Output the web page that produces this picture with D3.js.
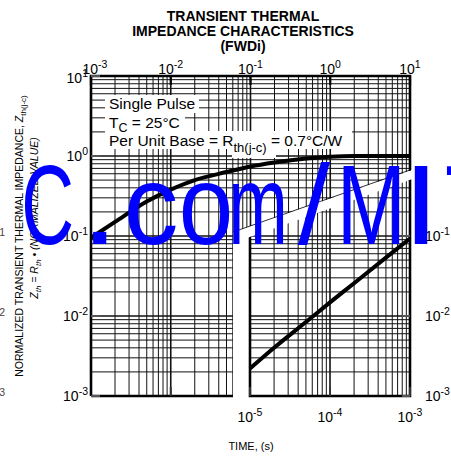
<!DOCTYPE html>
<html><head><meta charset="utf-8">
<script src="https://cdn.jsdelivr.net/npm/d3@7"></script>
<style>html,body{margin:0;padding:0;background:#fff;overflow:hidden}</style>
</head><body><svg id="c" width="451" height="457" xmlns="http://www.w3.org/2000/svg"></svg>
<script>
// ---- data ----
const tLong = [1e-3, 2e-3, 5e-3, 1e-2, 2e-2, 5e-2, 0.1, 0.2, 0.5, 1, 2, 5, 10];
const zLong = [0.095, 0.15, 0.27, 0.38, 0.50, 0.63, 0.74, 0.83, 0.93, 0.98, 1.0, 1.0, 1.0];
const tShort = [1e-5, 2e-5, 5e-5, 1e-4, 2e-4, 5e-4, 1e-3];
const zShort = [0.0022, 0.0040, 0.0084, 0.0148, 0.0257, 0.0537, 0.093];
const topTicks = [1e-3, 1e-2, 1e-1, 1e0, 1e1];
const topExp = ["-3", "-2", "-1", "0", "1"];
const bottomTicks = [1e-5, 1e-4, 1e-3];
const bottomExp = ["-5", "-4", "-3"];
const leftTicks = [1e1, 1e0, 1e-1, 1e-2, 1e-3];
const leftExp = ["1", "0", "-1", "-2", "-3"];
const rightTicks = [1e-1, 1e-2, 1e-3];
const rightExp = ["-1", "-2", "-3"];
const titleLines = ["TRANSIENT THERMAL", "IMPEDANCE CHARACTERISTICS", "(FWDi)"];
const watermark = ["C", ".", "c", "o", "m", "/", "M", "I", "T"];

const FONT = "'Liberation Sans', Arial, Helvetica, sans-serif";
const svg = d3.select("#c");

// ---- scales ----
const L = 91, R = 410, T = 76, B = 396, RL = 250, CUT = 233;
const xL = d3.scaleLog().domain([1e-3, 1e1]).range([L, R]);
const xR = d3.scaleLog().domain([1e-5, 1e-3]).range([RL, R]);
const y = d3.scaleLog().domain([1e-3, 1e1]).range([B, T]);

function gridValues(lo, hi) {
  const out = [];
  for (let n = Math.round(Math.log10(lo)); n < Math.round(Math.log10(hi)); n++)
    for (let k = 1; k <= 9; k++) out.push({v: k * Math.pow(10, n), major: k === 1});
  out.push({v: hi, major: true});
  return out;
}

// clip regions
const defs = svg.append("defs");
const lineUp = [[CUT, 232], [R, 170]];
const lineLow = [[RL, 237], [R, 180]];
defs.append("clipPath").attr("id", "clipL").append("polygon")
  .attr("points", [[L - 2, T - 2], [R + 2, T - 2], [R + 2, lineUp[1][1]], lineUp[0], [CUT, B + 2], [L - 2, B + 2]].join(" "));
defs.append("clipPath").attr("id", "clipR").append("polygon")
  .attr("points", [lineLow[0], [R + 2, lineLow[1][1] - 0.7], [R + 2, B + 2], [RL - 2, B + 2], [RL - 2, lineLow[0][1] + 0.7]].join(" "));

// ---- left (long time) grid ----
const gL = svg.append("g").attr("clip-path", "url(#clipL)");
gridValues(1e-3, 1e1).forEach(d => {
  gL.append("line").attr("x1", xL(d.v)).attr("x2", xL(d.v)).attr("y1", T).attr("y2", B)
    .attr("stroke", "#111").attr("stroke-width", d.major ? 1.6 : 1);
});
gridValues(1e-3, 1e1).forEach(d => {
  gL.append("line").attr("x1", L).attr("x2", R).attr("y1", y(d.v)).attr("y2", y(d.v))
    .attr("stroke", "#111").attr("stroke-width", d.major ? 1.6 : 1);
});
gL.append("path").attr("d", `M${L},${B}L${L},${T}L${R},${T}L${R},${B}`).attr("fill", "none")
  .attr("stroke", "#000").attr("stroke-width", 2.6);
gL.append("line").attr("x1", L).attr("x2", CUT).attr("y1", B).attr("y2", B)
  .attr("stroke", "#000").attr("stroke-width", 2.6);
topTicks.forEach(v => gL.append("line").attr("x1", xL(v)).attr("x2", xL(v)).attr("y1", T).attr("y2", T + 9)
  .attr("stroke", "#000").attr("stroke-width", 2.2));
[1e-2].forEach(v => gL.append("line").attr("x1", xL(v)).attr("x2", xL(v)).attr("y1", B - 9).attr("y2", B)
  .attr("stroke", "#333").attr("stroke-width", 2));
leftTicks.forEach(v => gL.append("line").attr("x1", L).attr("x2", L + 9).attr("y1", y(v)).attr("y2", y(v))
  .attr("stroke", "#555").attr("stroke-width", 2.2));

// ---- right (short time) grid ----
const gR = svg.append("g").attr("clip-path", "url(#clipR)");
gridValues(1e-5, 1e-3).forEach(d => {
  gR.append("line").attr("x1", xR(d.v)).attr("x2", xR(d.v)).attr("y1", T).attr("y2", B)
    .attr("stroke", "#111").attr("stroke-width", d.major ? 1.6 : 1);
});
gridValues(1e-3, 1e1).forEach(d => {
  gR.append("line").attr("x1", RL).attr("x2", R).attr("y1", y(d.v)).attr("y2", y(d.v))
    .attr("stroke", "#111").attr("stroke-width", d.major ? 1.6 : 1);
});
gR.append("path").attr("d", `M${RL},${T}L${RL},${B}L${R},${B}L${R},${T}`).attr("fill", "none")
  .attr("stroke", "#000").attr("stroke-width", 2.6);
bottomTicks.forEach(v => gR.append("line").attr("x1", xR(v)).attr("x2", xR(v)).attr("y1", B - 9).attr("y2", B)
  .attr("stroke", "#333").attr("stroke-width", 2));
rightTicks.forEach(v => gR.append("line").attr("x1", R - 8).attr("x2", R).attr("y1", y(v)).attr("y2", y(v))
  .attr("stroke", "#555").attr("stroke-width", 2));

svg.append("line").attr("x1", lineUp[0][0]).attr("y1", lineUp[0][1]).attr("x2", lineUp[1][0]).attr("y2", lineUp[1][1])
  .attr("stroke", "#000").attr("stroke-width", 0.8);

// ---- curves ----
const line = d3.line().curve(d3.curveMonotoneX);
gL.append("path").attr("d", line(tLong.map((t, i) => [xL(t), y(zLong[i])])))
  .attr("fill", "none").attr("stroke", "#000").attr("stroke-width", 4);
gR.append("path").attr("d", line(tShort.map((t, i) => [xR(t), y(zShort[i])])))
  .attr("fill", "none").attr("stroke", "#000").attr("stroke-width", 4);

// ---- legend box ----
const leg = svg.append("g").attr("font-family", FONT).attr("font-size", 15.5).attr("fill", "#000");
[[105, 95, 94, 18], [105, 113, 80, 18], [105, 131, 247, 18], [232, 147, 44, 11]].forEach(r =>
  leg.append("rect").attr("x", r[0]).attr("y", r[1]).attr("width", r[2]).attr("height", r[3]).attr("fill", "#fff"));
leg.append("text").attr("x", 109).attr("y", 109).text("Single Pulse");
const t2 = leg.append("text").attr("x", 109).attr("y", 128);
t2.append("tspan").text("T");
t2.append("tspan").attr("dy", 4).attr("font-size", 12.5).text("C");
t2.append("tspan").attr("dy", -4).text(" = 25°C");
const t3 = leg.append("text").attr("x", 109).attr("y", 146);
t3.append("tspan").text("Per Unit Base = R");
t3.append("tspan").attr("dy", 6).attr("font-size", 13).text("th(j-c)");
t3.append("tspan").attr("dy", -6).text(" = 0.7°C/W");

// ---- axis labels ----
const lab = svg.append("g").attr("font-family", FONT).attr("fill", "#000");
function powLabel(x, yy, exp, anchor) {
  const t = lab.append("text").attr("x", x).attr("y", yy).attr("text-anchor", anchor).attr("font-size", 14);
  t.append("tspan").text("10");
  t.append("tspan").attr("dy", -6).attr("font-size", 10.5).text(exp);
  return t;
}
topTicks.forEach((v, i) => powLabel(xL(v) + (i === 0 ? 4 : 0), T - 2, topExp[i], "middle"));
bottomTicks.forEach((v, i) => powLabel(xR(v), 422, bottomExp[i], "middle"));
leftTicks.forEach((v, i) => powLabel(88, y(v) + (i === 0 ? 7 : 4.5), leftExp[i], "end"));
rightTicks.forEach((v, i) => powLabel(425, y(v) + 4.5, rightExp[i], "start"));
rightTicks.forEach((v, i) => lab.append("text").attr("x", 5).attr("y", y(v) + 0).attr("text-anchor", "end")
  .attr("font-size", 10.5).attr("fill", "#444").text(rightExp[i]));

lab.append("text").attr("x", 251).attr("y", 450).attr("text-anchor", "middle").attr("font-size", 11).text("TIME, (s)");

const yt1 = lab.append("text").attr("transform", "translate(23,236) rotate(-90)").attr("text-anchor", "middle").attr("font-size", 10.5);
yt1.append("tspan").text("NORMALIZED TRANSIENT THERMAL IMPEDANCE, ");
yt1.append("tspan").attr("font-style", "italic").text("Z");
yt1.append("tspan").attr("dy", 3).attr("font-size", 8).text("th(j-c)");
const yt2 = lab.append("text").attr("transform", "translate(38,218) rotate(-90)").attr("text-anchor", "middle")
  .attr("font-size", 10.5).attr("font-style", "italic");
yt2.append("tspan").text("Z");
yt2.append("tspan").attr("dy", 3).attr("font-size", 8).text("th");
yt2.append("tspan").attr("dy", -3).text(" = R");
yt2.append("tspan").attr("dy", 3).attr("font-size", 8).text("th");
yt2.append("tspan").attr("dy", -3).text(" • (NORMALIZED VALUE)");

titleLines.forEach((s, i) => lab.append("text").attr("x", 243).attr("y", 21 + i * 15).attr("text-anchor", "middle")
  .attr("font-size", 14).attr("font-weight", "bold").text(s));

// ---- watermark ----
const wmBox = [[25, 47, 0.050, 0.642], [93, 13, 0.091, 0.094], [128, 46, 0.039, 0.42], [182, 48, 0.033, 0.49],
  [233, 50, 0.066, 0.70], [298, 32, 0.0, 0.278], [343, 57, 0.074, 0.686], [415, 12, 0.094, 0.09], [447, 62, 0.024, 0.567]];
const WS = 113, WB = 244;
const wm = svg.append("g").attr("font-family", FONT).attr("font-size", WS).attr("fill", "#0000ff");
watermark.forEach((ch, i) => {
  const b = wmBox[i];
  const sx = b[1] / (b[3] * WS);
  wm.append("text").attr("transform", `translate(${b[0] - b[2] * WS * sx},${WB}) scale(${sx},1)`).text(ch);
});
</script></body></html>
